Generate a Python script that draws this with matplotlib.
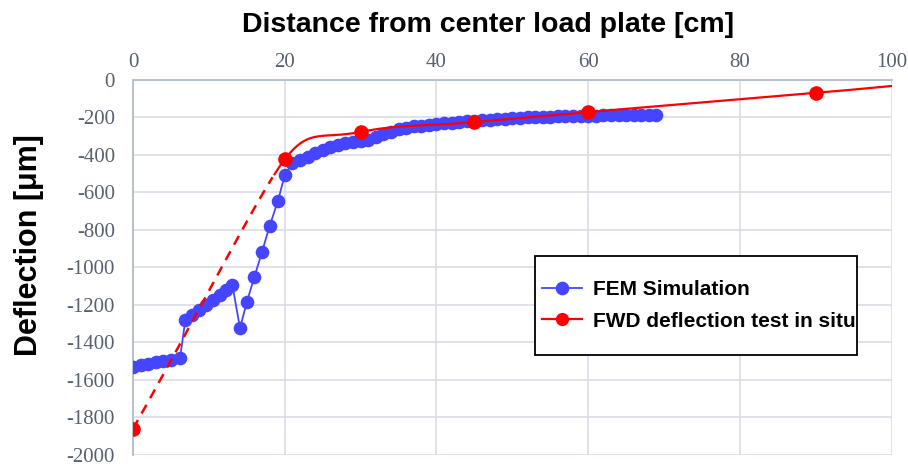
import numpy as np
from matplotlib import pyplot as plt
from matplotlib.patches import Rectangle

plt.rcParams['axes.unicode_minus'] = False

# FEM simulation (distance [cm], deflection [um])
fem_x = [0, 1, 2, 3, 4, 5, 6.2,
         6.9, 7.8, 8.7, 9.6, 10.5, 11.4, 12.3, 13.1,
         14.1, 15.0, 16.0, 17.0, 18.0, 19.1, 20.0,
         21, 22, 23, 24, 25, 26, 27, 28, 29, 30,
         31, 32, 33, 34, 35, 36, 37, 38, 39, 40,
         41, 42, 43, 44, 45, 46, 47, 48, 49, 50,
         51, 52, 53, 54, 55, 56, 57, 58, 59, 60,
         61, 62, 63, 64, 65, 66, 67, 68, 69]
fem_y = [-1530, -1522, -1514, -1506, -1498, -1491, -1483,
         -1278, -1252, -1225, -1200, -1172, -1148, -1120, -1093,
         -1323, -1184, -1050, -917, -779, -645, -507,
         -443, -428, -412, -392, -375, -360, -345, -335, -330, -325,
         -318, -305, -290, -275, -262, -254, -248, -243, -238, -234,
         -230, -227, -224, -221, -218, -215, -212, -209, -206, -204,
         -202, -200, -198, -196, -195, -194, -193, -192, -191, -190,
         -190, -189, -189, -188, -188, -188, -187, -187, -187]

# FWD deflection test in situ
fwd_x = [0, 20, 30, 45, 60, 90]
fwd_y = [-1860, -423, -277, -224, -171, -69]
# red line continues to the right edge without a marker
fwd_end_x = 100
fwd_end_y = -32

tick_col = '#56606f'
grid_col = '#d9dde6'
spine_col = '#b3bccb'


def smooth(xs, ys, sx, sy, k=0.5, n=50):
    # bezier smoothing done in pixel space (sx, sy = pixels per unit)
    p = np.column_stack([np.array(xs) * sx, np.array(ys) * sy]).astype(float)
    segs = []
    t = np.linspace(0, 1, n)[:, None]
    m = len(p)
    def unit(v):
        return v / np.hypot(*v)
    for i in range(m - 1):
        a, b = p[i], p[i + 1]
        L = np.hypot(*(b - a))
        if i == 0:
            da, la = unit(b - a), L
        else:
            da, la = unit(b - p[i - 1]), min(L, np.hypot(*(a - p[i - 1])))
        if i == m - 2:
            db, lb = unit(b - a), L
        else:
            db, lb = unit(p[i + 2] - a), min(L, np.hypot(*(p[i + 2] - b)))
        c1 = a + k * la * da
        c2 = b - k * lb * db
        pts = (1 - t)**3 * a + 3 * (1 - t)**2 * t * c1 + 3 * (1 - t) * t**2 * c2 + t**3 * b
        pts[:, 0] /= sx
        pts[:, 1] /= sy
        segs.append(pts)
    return segs


fig = plt.figure(figsize=(9.08, 4.67), dpi=100)
ax = fig.add_axes([0.1465, 0.0257, 0.8355, 0.803])

ax.plot(fem_x, fem_y, color='#4545ff', lw=1.3, marker='o', ms=8.8,
        mec='#4545ff', mfc='#4545ff', zorder=3, label='FEM Simulation')

segs = smooth(fwd_x + [fwd_end_x], fwd_y + [fwd_end_y], 7.59, 0.1875)
# first segment dashed up to ~18.5 cm, rest solid
s0 = segs[0]
cut = s0[:, 0] <= 18.5
ax.plot(s0[cut, 0], s0[cut, 1], color='red', lw=1.8, ls=(0, (4, 3)), zorder=4)
rest = np.vstack([s0[~cut]] + segs[1:])
ax.plot(rest[:, 0], rest[:, 1], color='red', lw=1.6, zorder=4)
ax.plot(fwd_x, fwd_y, ls='none', marker='o', ms=9.5, color='red', zorder=5)
# legend proxy
ax.plot([], [], color='red', lw=1.6, marker='o', ms=8.5, label='FWD deflection test in situ')

ax.set_xlim(0, 100)
ax.set_ylim(-2000, 0)
ax.set_xticks(range(0, 101, 20))
ax.set_yticks(range(-2000, 1, 200))
ax.xaxis.tick_top()
ax.tick_params(length=0, labelsize=15, labelcolor=tick_col)
ax.tick_params(axis='y', pad=13)
ax.tick_params(axis='x', pad=6)
for lab in ax.get_xticklabels() + ax.get_yticklabels():
    lab.set_family('Liberation Serif')
ax.grid(True, color=grid_col, lw=1.2)
ax.set_axisbelow(True)
for s in ['right', 'bottom']:
    ax.spines[s].set_visible(False)
for s in ['left', 'top']:
    ax.spines[s].set_color(spine_col)
    ax.spines[s].set_linewidth(1.3)

fig.text(0.537, 0.946, 'Distance from center load plate [cm]', ha='center', va='center',
         fontsize=20.5, fontweight='bold', family='Liberation Sans')
fig.text(0.032, 0.476, 'Deflection [\u03bcm]', ha='center', va='center', rotation=90,
         fontsize=22, fontweight='bold', family='Liberation Sans')

# legend box
ax.add_patch(Rectangle((0.5296, 0.2667), 0.4243, 0.264, transform=ax.transAxes,
                       facecolor='white', edgecolor='black', lw=1.3, zorder=6))
h, l = ax.get_legend_handles_labels()
leg = ax.legend(h, l, loc='center left', bbox_to_anchor=(0.539, 0.399), frameon=False,
                prop={'family': 'Liberation Sans', 'weight': 'bold', 'size': 15},
                handlelength=1.9, borderpad=0, labelspacing=0.6, handletextpad=0.55,
                borderaxespad=0)
leg.set_zorder(7)

fig.savefig('out.png', dpi=100)
